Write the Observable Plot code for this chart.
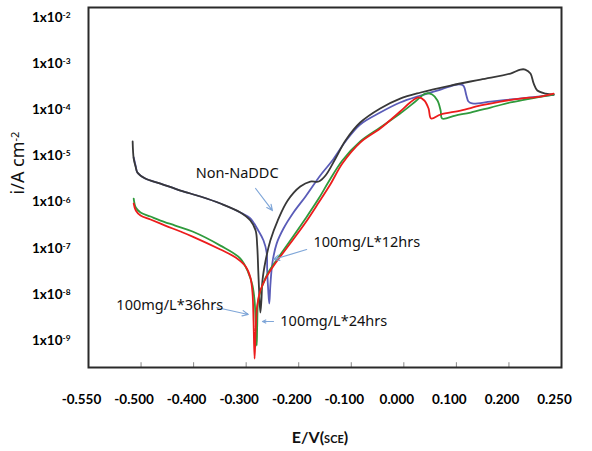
<!DOCTYPE html>
<html>
<head>
<meta charset="utf-8">
<script src="https://cdn.jsdelivr.net/npm/d3@7"></script>
<script src="https://cdn.jsdelivr.net/npm/@observablehq/plot@0.6"></script>
<style>
  html, body { margin: 0; padding: 0; background: #fff; }
  #chart svg { display: block; }
</style>
</head>
<body>
<div id="chart"></div>
<script>
// ---- Axis tick labels ----
const xTickValues = [-0.6, -0.5, -0.4, -0.3, -0.2, -0.1, 0.0, 0.1, 0.2, 0.3];
const xTickLabels = ["-0.550", "-0.500", "-0.400", "-0.300", "-0.200", "-0.100", "0.000", "0.100", "0.200", "0.250"];
const xTickMarks = [-0.5, -0.4, -0.3, -0.2, -0.1, 0.0, 0.1, 0.2];
const yTickValues = [1e-2, 1e-3, 1e-4, 1e-5, 1e-6, 1e-7, 1e-8, 1e-9];
const yTickExponents = ["-2", "-3", "-4", "-5", "-6", "-7", "-8", "-9"];

// ---- Series: E (V vs SCE) and i (A cm^-2) ----
const nonE = [-0.516, -0.514, -0.510, -0.507, -0.492, -0.463, -0.425, -0.387, -0.349, -0.311, -0.292, -0.282, -0.279, -0.277, -0.275, -0.273, -0.271, -0.269, -0.263, -0.254, -0.240, -0.221, -0.197, -0.178, -0.162, -0.149, -0.130, -0.111, -0.083, -0.045, -0.007, 0.032, 0.089, 0.146, 0.203, 0.222, 0.231, 0.241, 0.247, 0.254, 0.270, 0.285];
const nonI = [2.06e-5, 8.8e-6, 5.61e-6, 4.38e-6, 3.24e-6, 2.52e-6, 1.78e-6, 1.32e-6, 9.3e-7, 5.94e-7, 3.98e-7, 2.42e-7, 1.14e-7, 3.29e-8, 9.44e-9, 4.04e-9, 7.35e-9, 2.0e-8, 5.41e-8, 1.47e-7, 3.98e-7, 1.08e-6, 2.17e-6, 2.79e-6, 2.79e-6, 3.77e-6, 8.8e-6, 2.16e-5, 5.30e-5, 1.07e-4, 1.75e-4, 2.37e-4, 3.36e-4, 4.53e-4, 6.11e-4, 7.46e-4, 7.46e-4, 6.11e-4, 3.72e-4, 2.62e-4, 2.25e-4, 2.14e-4];

const h12E = [-0.514, -0.510, -0.507, -0.492, -0.463, -0.425, -0.387, -0.349, -0.311, -0.292, -0.277, -0.267, -0.261, -0.260, -0.258, -0.256, -0.254, -0.250, -0.242, -0.229, -0.210, -0.187, -0.159, -0.136, -0.111, -0.083, -0.045, -0.007, 0.032, 0.070, 0.102, 0.113, 0.119, 0.123, 0.130, 0.165, 0.203, 0.241, 0.285];
const h12I = [9.25e-6, 5.90e-6, 4.38e-6, 3.24e-6, 2.52e-6, 1.78e-6, 1.32e-6, 9.3e-7, 5.94e-7, 4.41e-7, 2.42e-7, 1.47e-7, 8.07e-8, 3.29e-8, 1.21e-8, 6.32e-9, 1.56e-8, 4.90e-8, 1.26e-7, 2.67e-7, 5.94e-7, 1.32e-6, 3.77e-6, 7.96e-6, 2.06e-5, 4.80e-5, 8.73e-5, 1.44e-4, 2.04e-4, 2.75e-4, 3.53e-4, 3.36e-4, 2.04e-4, 1.51e-4, 1.37e-4, 1.51e-4, 1.67e-4, 1.85e-4, 2.10e-4];

const h24E = [-0.514, -0.510, -0.501, -0.482, -0.463, -0.435, -0.402, -0.349, -0.311, -0.296, -0.288, -0.284, -0.282, -0.280, -0.279, -0.277, -0.269, -0.258, -0.240, -0.216, -0.187, -0.162, -0.144, -0.117, -0.083, -0.045, -0.007, 0.022, 0.041, 0.054, 0.064, 0.070, 0.073, 0.098, 0.127, 0.165, 0.203, 0.241, 0.285];
const h24I = [1.19e-6, 7.62e-7, 5.94e-7, 4.86e-7, 3.98e-7, 3.10e-7, 2.30e-7, 1.14e-7, 5.98e-8, 2.97e-8, 1.56e-8, 7.35e-9, 2.71e-9, 7.78e-10, 2.11e-9, 7.35e-9, 1.56e-8, 2.97e-8, 5.98e-8, 1.47e-7, 4.41e-7, 1.19e-6, 2.65e-6, 7.96e-6, 2.06e-5, 4.13e-5, 8.30e-5, 1.51e-4, 2.25e-4, 2.14e-4, 1.59e-4, 9.64e-5, 6.47e-5, 7.52e-5, 8.73e-5, 1.12e-4, 1.44e-4, 1.75e-4, 2.14e-4];

const h36E = [-0.514, -0.510, -0.501, -0.482, -0.454, -0.425, -0.402, -0.349, -0.320, -0.301, -0.292, -0.288, -0.286, -0.284, -0.282, -0.279, -0.273, -0.263, -0.250, -0.235, -0.212, -0.187, -0.162, -0.140, -0.117, -0.083, -0.045, -0.007, 0.012, 0.028, 0.039, 0.047, 0.052, 0.070, 0.108, 0.146, 0.184, 0.222, 0.260, 0.285];
const h36I = [9.3e-7, 6.56e-7, 5.12e-7, 4.19e-7, 3.10e-7, 2.30e-7, 1.79e-7, 9.38e-8, 6.28e-8, 4.01e-8, 2.32e-8, 1.10e-8, 2.71e-9, 4.06e-10, 1.64e-9, 5.73e-9, 1.21e-8, 2.20e-8, 3.82e-8, 6.61e-8, 1.47e-7, 3.61e-7, 9.77e-7, 2.40e-6, 6.85e-6, 1.95e-5, 3.93e-5, 9.18e-5, 1.44e-4, 1.85e-4, 1.59e-4, 1.07e-4, 6.47e-5, 7.91e-5, 9.64e-5, 1.24e-4, 1.51e-4, 1.75e-4, 1.94e-4, 2.25e-4];

// ---- Annotations ----
const labelTexts = ["Non-NaDDC", "100mg/L*12hrs", "100mg/L*36hrs", "100mg/L*24hrs"];
const labelE = [-0.396, -0.172, -0.547, -0.235];
const labelI = [4.16e-6, 1.33e-7, 5.73e-9, 2.58e-9];
const arrowE1 = [-0.282, -0.185, -0.356, -0.248];
const arrowI1 = [1.97e-6, 9.38e-8, 5.19e-9, 2.58e-9];
const arrowE2 = [-0.250, -0.248, -0.296, -0.269];
const arrowI2 = [6.56e-7, 5.69e-8, 3.66e-9, 2.58e-9];

const toRows = (E, I) => E.map((e, k) => ({E: e, i: I[k]}));
const annotations = labelTexts.map((t, k) => ({text: t, E: labelE[k], i: labelI[k]}));
const arrows = arrowE1.map((e, k) => ({x1: e, y1: arrowI1[k], x2: arrowE2[k], y2: arrowI2[k]}));

const lineOpts = {x: "E", y: "i", strokeWidth: 1.8, curve: "catmull-rom"};

const chart = Plot.plot({
  width: 592,
  height: 451,
  marginTop: 7,
  marginBottom: 84,
  marginLeft: 88,
  marginRight: 31,
  style: {fontFamily: "Lato, sans-serif", background: "#fff"},
  x: {domain: [-0.6, 0.3], label: null},
  y: {type: "log", domain: [2.6e-10, 1.648e-2], label: null},
  marks: [
    Plot.line(toRows(h12E, h12I), {...lineOpts, stroke: "#5a5cb8"}),
    Plot.line(toRows(nonE, nonI), {...lineOpts, stroke: "#383838"}),
    Plot.line(toRows(h24E, h24I), {...lineOpts, stroke: "#2f9a3c"}),
    Plot.line(toRows(h36E, h36I), {...lineOpts, stroke: "#ec1c1c"}),
    Plot.arrow(arrows, {x1: "x1", y1: "y1", x2: "x2", y2: "y2", stroke: "#7fa6d8", strokeWidth: 1.2, headLength: 8, headAngle: 50}),
    Plot.text(annotations, {x: "E", y: "i", text: "text", textAnchor: "start", fontSize: 14.5, fill: "#111", fontFamily: "Noto Sans, sans-serif"}),
    Plot.axisX({ticks: xTickValues, tickSize: 0, tickPadding: 27, fontSize: 13.5, fontWeight: "bold", dx: -7,
      tickFormat: d => xTickLabels[xTickValues.findIndex(v => Math.abs(v - d) < 1e-9)], label: null}),
    Plot.ruleX(xTickMarks, {x: d => d, y1: 2.6e-10, y2: 3.3e-10, stroke: "#888", strokeWidth: 1}),
    Plot.axisY({ticks: yTickValues, tickSize: 0, tickPadding: 18, fontSize: 13.5, fontWeight: "bold",
      tickFormat: d => "1x10^" + yTickExponents[yTickValues.findIndex(v => Math.abs(Math.log10(v) - Math.log10(d)) < 1e-6)], label: null}),
    Plot.frame({stroke: "#2a2a2a", strokeWidth: 2})
  ]
});

document.getElementById("chart").appendChild(chart);

// superscripts for y tick labels
const svg = d3.select(chart);
svg.selectAll('g[aria-label="y-axis tick label"] text').each(function() {
  const t = d3.select(this);
  const parts = t.text().split("^");
  t.text(parts[0]);
  t.append("tspan").attr("dy", "-0.45em").attr("font-size", "0.62em").text(parts[1]);
});

// axis titles
const xt = svg.append("text")
  .attr("x", 320).attr("y", 443)
  .attr("text-anchor", "middle")
  .attr("font-family", "Lato, sans-serif").attr("font-weight", "bold").attr("font-size", 16).attr("fill", "#111");
xt.append("tspan").text("E/V(");
xt.append("tspan").attr("font-size", 11).text("SCE");
xt.append("tspan").text(")");

const yt = svg.append("text")
  .attr("transform", "translate(24,163) rotate(-90)")
  .attr("text-anchor", "middle")
  .attr("font-family", "Noto Sans, sans-serif").attr("font-size", 18).attr("fill", "#111");
yt.append("tspan").text("i/A cm");
yt.append("tspan").attr("dy", "-0.5em").attr("font-size", 11).text("-2");
</script>
</body>
</html>
